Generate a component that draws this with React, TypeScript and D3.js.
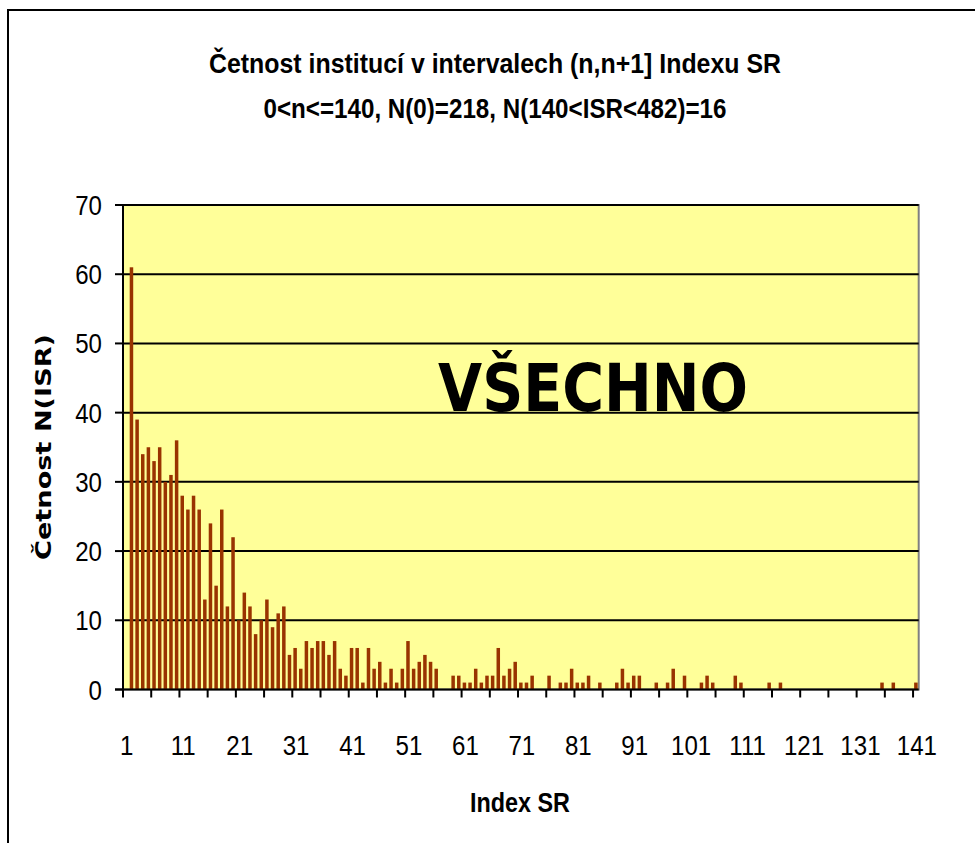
import React, { useRef, useEffect } from "react";
import * as d3 from "d3";

// categories 1..141 (interval index), counts
const categories: string[] = d3.range(1, 142).map((d) => String(d));

const counts: number[] = [
  0, 61, 39, 34, 35, 33, 35, 30, 31, 36,
  28, 26, 28, 26, 13, 24, 15, 26, 12, 22,
  10, 14, 12, 8, 10, 13, 9, 11, 12, 5,
  6, 3, 7, 6, 7, 7, 5, 7, 3, 2,
  6, 6, 1, 6, 3, 4, 1, 3, 1, 3,
  7, 3, 4, 5, 4, 3, 0, 0, 2, 2,
  1, 1, 3, 1, 2, 2, 6, 2, 3, 4,
  1, 1, 2, 0, 0, 2, 0, 1, 1, 3,
  1, 1, 2, 0, 1, 0, 0, 1, 3, 1,
  2, 2, 0, 0, 1, 0, 1, 3, 0, 2,
  0, 0, 1, 2, 1, 0, 0, 0, 2, 1,
  0, 0, 0, 0, 1, 0, 1, 0, 0, 0,
  0, 0, 0, 0, 0, 0, 0, 0, 0, 0,
  0, 0, 0, 0, 1, 0, 1, 0, 0, 0,
  1,
];

const xTickLabels: string[] = ["1", "11", "21", "31", "41", "51", "61", "71", "81", "91", "101", "111", "121", "131", "141"];
const yTicks: number[] = [0, 10, 20, 30, 40, 50, 60, 70];

const titleLines: string[] = [
  "Četnost institucí v intervalech (n,n+1] Indexu SR",
  "0<n<=140, N(0)=218, N(140<ISR<482)=16",
];
const titleWidths: number[] = [572, 463];

const sans = "'Liberation Sans', Arial, sans-serif";
const squeeze = 0.86;

export default function App() {
  const ref = useRef<SVGSVGElement>(null);

  useEffect(() => {
    if (!ref.current) return;
    const svg = d3.select(ref.current);
    svg.selectAll("*").remove();

    const left = 123, right = 918.7, top = 205, bottom = 689.5;

    const x = d3.scaleBand<string>()
      .domain(categories)
      .range([left, right])
      .paddingInner(0.38)
      .paddingOuter(0.19);
    const y = d3.scaleLinear().domain([0, 70]).range([bottom, top]);
    const step = x.step();

    // outer chart frame
    svg.append("rect")
      .attr("x", 8).attr("y", 10).attr("width", 990).attr("height", 860)
      .attr("fill", "#fff").attr("stroke", "#000").attr("stroke-width", 2);

    // plot area
    svg.append("rect")
      .attr("x", left).attr("y", top).attr("width", right - left).attr("height", bottom - top)
      .attr("fill", "#FFFF99").attr("stroke", "#808080").attr("stroke-width", 2);

    // gridlines
    svg.append("g").selectAll("line")
      .data(yTicks.filter((d) => d > 0))
      .join("line")
      .attr("x1", left).attr("x2", right)
      .attr("y1", (d) => y(d)).attr("y2", (d) => y(d))
      .attr("stroke", "#000").attr("stroke-width", 2);

    // bars
    svg.append("g").selectAll("rect")
      .data(counts.map((v, i) => ({ c: categories[i], v })).filter((d) => d.v > 0))
      .join("rect")
      .attr("x", (d) => x(d.c)!)
      .attr("y", (d) => y(d.v))
      .attr("width", x.bandwidth())
      .attr("height", (d) => y(0) - y(d.v))
      .attr("fill", "#993300");

    // axes lines
    svg.append("line")
      .attr("x1", left).attr("x2", left).attr("y1", top).attr("y2", bottom)
      .attr("stroke", "#000").attr("stroke-width", 2);
    svg.append("line")
      .attr("x1", left - 8).attr("x2", right).attr("y1", bottom).attr("y2", bottom)
      .attr("stroke", "#000").attr("stroke-width", 2);

    // y ticks + labels
    const yg = svg.append("g");
    yg.selectAll("line")
      .data(yTicks)
      .join("line")
      .attr("x1", left - 8).attr("x2", left)
      .attr("y1", (d) => y(d)).attr("y2", (d) => y(d))
      .attr("stroke", "#000").attr("stroke-width", 2);
    yg.selectAll("text")
      .data(yTicks)
      .join("text")
      .attr("transform", (d) => `translate(102,${y(d) + 10}) scale(${squeeze},1)`)
      .attr("text-anchor", "end")
      .attr("font-family", sans)
      .attr("font-size", 28)
      .text((d) => String(d));

    // x ticks every 5 categories (boundaries)
    const xTickPos = d3.range(0, categories.length + 1, 5).map((k) => left + k * step);
    svg.append("g").selectAll("line")
      .data(xTickPos)
      .join("line")
      .attr("x1", (d) => d).attr("x2", (d) => d)
      .attr("y1", bottom).attr("y2", bottom + 8)
      .attr("stroke", "#000").attr("stroke-width", 2);

    svg.append("g").selectAll("text")
      .data(xTickLabels)
      .join("text")
      .attr("transform", (d) => `translate(${x(d)! + x.bandwidth() / 2 + 1},755) scale(${squeeze},1)`)
      .attr("text-anchor", "middle")
      .attr("font-family", sans)
      .attr("font-size", 28)
      .text((d) => d);

    // titles
    svg.append("g").selectAll("text")
      .data(titleLines)
      .join("text")
      .attr("x", (_, i) => 495 - titleWidths[i] / 2)
      .attr("y", (_, i) => 73 + i * 45)
      .attr("font-family", sans)
      .attr("font-weight", "bold")
      .attr("font-size", 28)
      .attr("textLength", (_, i) => titleWidths[i])
      .attr("lengthAdjust", "spacingAndGlyphs")
      .text((d) => d);

    svg.append("text")
      .attr("x", 470).attr("y", 812)
      .attr("font-family", sans)
      .attr("font-weight", "bold")
      .attr("font-size", 28)
      .attr("textLength", 100)
      .attr("lengthAdjust", "spacingAndGlyphs")
      .text("Index SR");

    svg.append("text")
      .attr("transform", "translate(51,560) rotate(-90)")
      .attr("font-family", "'DejaVu Sans', Verdana, sans-serif")
      .attr("font-weight", "bold")
      .attr("font-size", 22)
      .attr("textLength", 226)
      .attr("lengthAdjust", "spacingAndGlyphs")
      .text("Četnost N(ISR)");

    svg.append("text")
      .attr("x", 438).attr("y", 411)
      .attr("font-family", "'DejaVu Sans', Verdana, sans-serif")
      .attr("font-weight", "bold")
      .attr("font-size", 66)
      .attr("textLength", 310)
      .attr("lengthAdjust", "spacingAndGlyphs")
      .text("VŠECHNO");
  }, []);

  return (
    <svg
      ref={ref}
      width={975}
      height={843}
      style={{ position: "absolute", left: 0, top: 0, background: "#fff" }}
    />
  );
}
